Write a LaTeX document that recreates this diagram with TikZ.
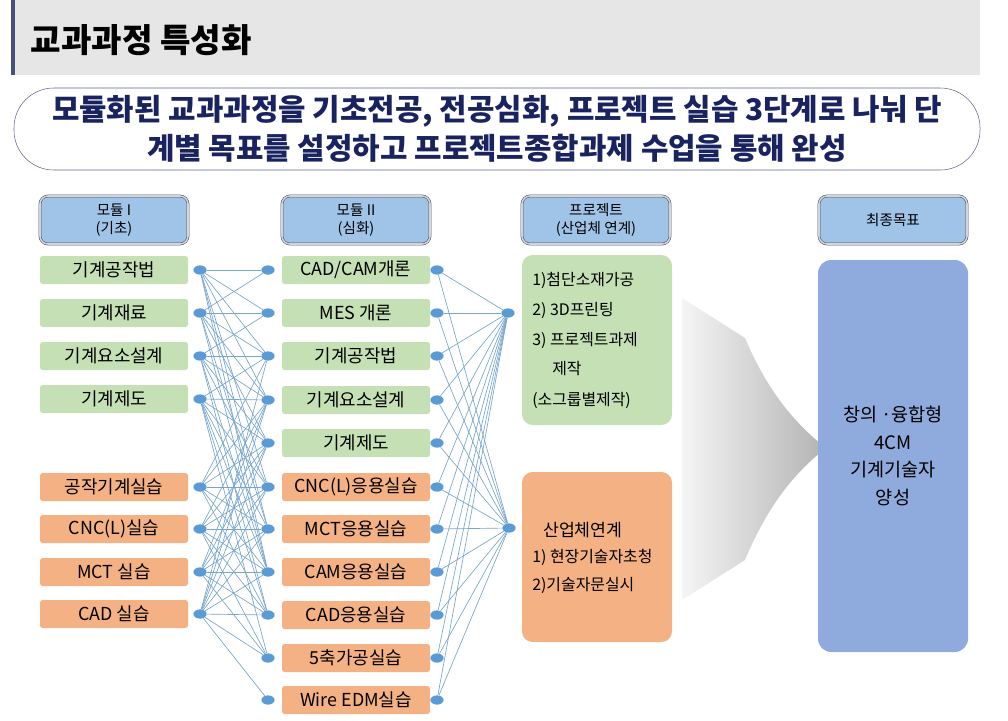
\documentclass[tikz,border=0pt]{standalone}
\usepackage{fontspec}
\setmainfont{Noto Sans CJK KR}
\usetikzlibrary{positioning,shadings,shapes.geometric}
\definecolor{hdrgray}{RGB}{230,230,230}
\definecolor{navy}{RGB}{25,35,95}
\definecolor{headfill}{RGB}{160,195,232}
\definecolor{greenfill}{RGB}{197,224,180}
\definecolor{orangefill}{RGB}{244,177,131}
\definecolor{goalfill}{RGB}{143,170,220}
\definecolor{dotblue}{RGB}{91,155,213}
\definecolor{wireblue}{RGB}{120,165,205}

\begin{document}
\begin{tikzpicture}[x=0.0265cm,y=-0.0265cm,font=\fontsize{13.5}{15}\selectfont]
    \tikzstyle{headbox}=[draw=black!70,double=white!80!navy,double distance=1.2pt,
        fill=headfill,rounded corners=6pt,inner sep=0pt,
        minimum width=148*0.0265cm,minimum height=48*0.0265cm,
        align=center,font=\fontsize{11}{14}\selectfont]
    \tikzstyle{course}=[rounded corners=2pt,minimum height=28*0.0265cm,inner sep=0pt]
    \tikzstyle{basic}=[course,fill=greenfill,minimum width=148*0.0265cm]
    \tikzstyle{practice}=[course,fill=orangefill,minimum width=148*0.0265cm]
    \tikzstyle{dot}=[ellipse,fill=dotblue,minimum width=10pt,minimum height=7pt,inner sep=0pt]
    \tikzstyle{wire}=[draw=wireblue,line width=0.5pt]
    \tikzstyle{annot}=[anchor=west,inner sep=0pt,font=\fontsize{12}{14}\selectfont]

    \useasboundingbox (0,0) rectangle (1008,720);

    % Title band
    \fill[hdrgray] (14,0) rectangle (980,75);
    \fill[navy!80] (11,0) rectangle (15,75);
    \node[anchor=west,font=\fontsize{25}{28}\bfseries] (title) at (26,40) {교과과정 특성화};

    % Banner
    \draw[draw=navy!70,fill=white,rounded corners=30pt] (14,88) rectangle (980,170);
    \node[align=center,text=navy,font=\fontsize{22.5}{29}\bfseries] (banner) at (497,129)
        {모듈화된 교과과정을 기초전공, 전공심화, 프로젝트 실습 3단계로 나눠 단\\계별 목표를 설정하고 프로젝트종합과제 수업을 통해 완성};

    % Column heads
    \node[headbox] (h1) at (114,220) {모듈 I\\(기초)};
    \node[headbox] (h2) at (356,220) {모듈 II\\(심화)};
    \node[headbox] (h3) at (596,220) {프로젝트\\(산업체 연계)};
    \node[headbox] (h4) at (893,220) {최종목표};

    % Module I courses
    \foreach \name/\y/\txt/\sty in {1/270/기계공작법/basic, 2/313/기계재료/basic,
        3/356/기계요소설계/basic, 4/399/기계제도/basic, 5/487/공작기계실습/practice,
        6/529/CNC(L)실습/practice, 7/572/MCT 실습/practice, 8/614/CAD 실습/practice} {
        \node[\sty] (A-\name) at (114,\y) {\txt};
        \node[dot] (AD-\name) at (200,\y) {};
    }

    % Module II courses
    \foreach \name/\y/\txt/\sty in {1/270/{CAD/CAM개론}/basic, 2/313/MES 개론/basic,
        3/356/기계공작법/basic, 4/400/기계요소설계/basic, 5/443/기계제도/basic,
        6/487/CNC(L)응용실습/practice, 7/529/MCT응용실습/practice, 8/572/CAM응용실습/practice,
        9/615/CAD응용실습/practice, 10/658/5축가공실습/practice, 11/700/Wire EDM실습/practice} {
        \node[\sty] (B-\name) at (356,\y) {\txt};
        \node[dot] (BL-\name) at (268,\y) {};
        \node[dot] (BR-\name) at (437,\y) {};
    }

    % Links Module I -> Module II
    \foreach \src/\dests in {1/{1,2,3,4,6,7,8}, 2/{1,2,3,4,5,7,8}, 3/{2,3,4,5,6,8,9},
        4/{3,4,5,6,7,8,9,10}, 5/{3,4,5,6,7,8,9}, 6/{4,5,6,7,8,9,10},
        7/{4,5,6,7,8,9,10}, 8/{3,4,5,6,7,8,9,10,11}}
        \foreach \dst in \dests
            \path[wire] (AD-\src) -- (BL-\dst);

    % Project boxes
    \fill[greenfill,rounded corners=8pt] (522,255) rectangle (672,425);
    \fill[orangefill,rounded corners=8pt] (522,472) rectangle (672,642);
    \node[dot] (P-1) at (508,313) {};
    \node[dot] (P-2) at (509,528) {};
    \foreach \src in {1,...,11}
        \foreach \dst in {1,2}
            \path[wire] (BR-\src) -- (P-\dst);

    \node[annot] (t1) at (532,280) {1)첨단소재가공};
    \node[annot] (t2) at (532,310) {2) 3D프린팅};
    \node[annot] (t3) at (532,340) {3) 프로젝트과제};
    \node[annot] (t4) at (552,369) {제작};
    \node[annot] (t5) at (532,400) {(소그룹별제작)};
    \node[annot,font=\fontsize{13}{14}\selectfont] (u1) at (543,530) {산업체연계};
    \node[annot] (u2) at (532,557) {1) 현장기술자초청};
    \node[annot] (u3) at (532,585) {2)기술자문실시};

    % Big arrow
    \shade[left color=gray!8,right color=gray!60]
        (682,298) -- (745,338) .. controls (765,385) and (790,420) .. (826,448)
        .. controls (790,476) and (765,512) .. (745,560) -- (682,600) -- cycle;

    % Final goal
    \node[fill=goalfill,rounded corners=10pt,minimum width=150*0.0265cm,
        minimum height=392*0.0265cm,align=center,font=\fontsize{14}{21}\selectfont] (goal) at (893,456)
        {창의 ·융합형\\4CM\\기계기술자\\양성};
\end{tikzpicture}
\end{document}
